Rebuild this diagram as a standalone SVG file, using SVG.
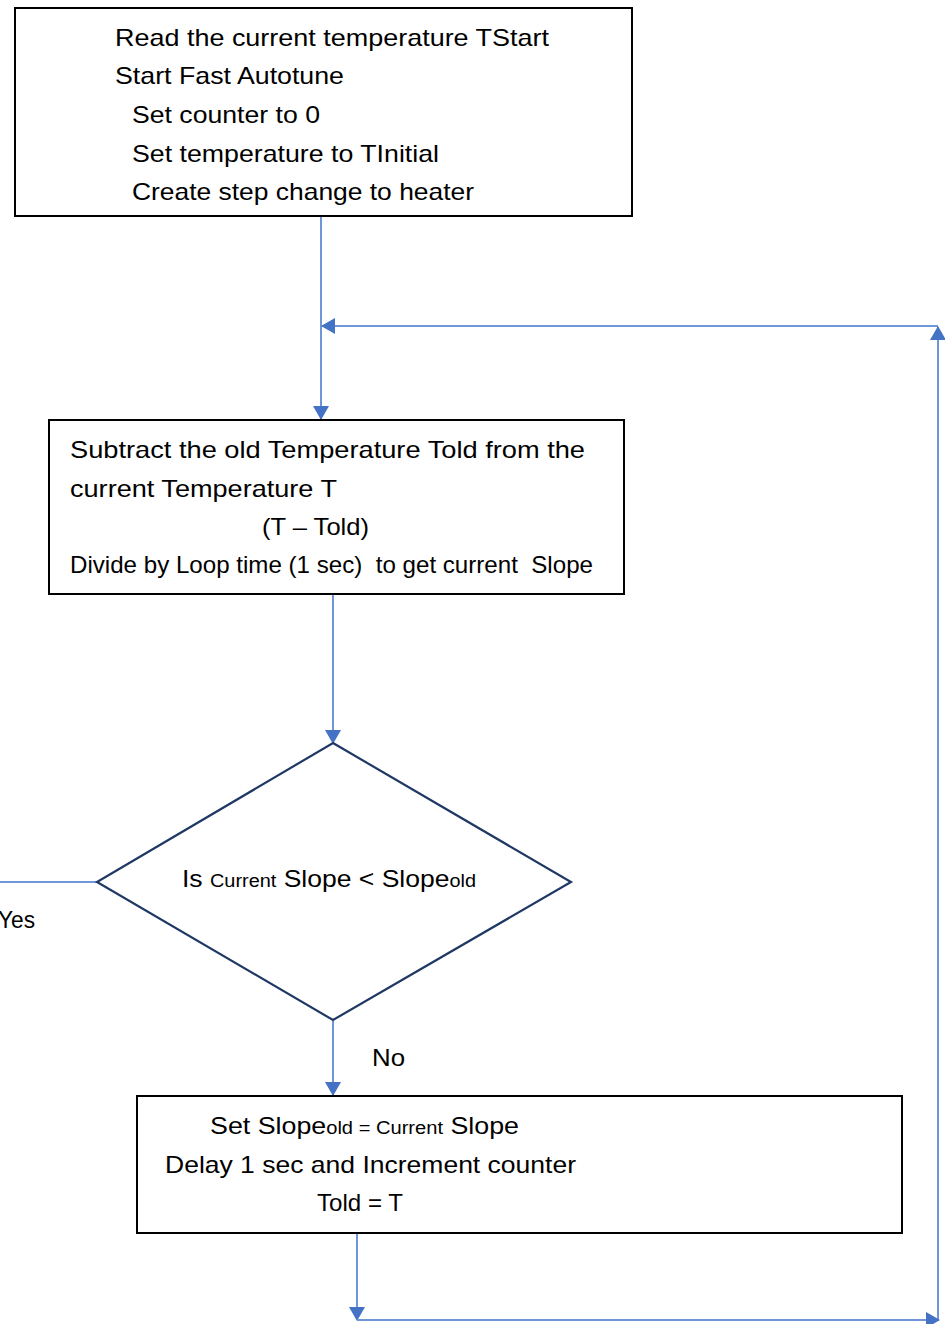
<svg xmlns="http://www.w3.org/2000/svg" width="945" height="1324" viewBox="0 0 945 1324">
<defs>
<style>
.box{fill:#fff;stroke:#000;stroke-width:2}
.dia{fill:#fff;stroke:#1f3864;stroke-width:2.2}
.con{fill:none;stroke:#6f97d8;stroke-width:2}
text{font-family:"Liberation Sans",Arial,sans-serif;font-size:24px;fill:#000}
.s{font-size:18px}
.pre{white-space:pre}
</style>
<marker id="ah" viewBox="0 0 14 16" refX="13" refY="8" markerWidth="14" markerHeight="16" markerUnits="userSpaceOnUse" orient="auto">
<path d="M0,0 L14,8 L0,16 z" fill="#4472c4"/>
</marker>
</defs>
<g id="connectors">
<path class="con" d="M321,217 V419" marker-end="url(#ah)"/>
<path class="con" d="M938,326 H322" marker-end="url(#ah)"/>
<path class="con" d="M938,1320 V327" marker-end="url(#ah)"/>
<path class="con" d="M333,595 V743" marker-end="url(#ah)"/>
<path class="con" d="M97,882 H0"/>
<path class="con" d="M333,1021 V1095" marker-end="url(#ah)"/>
<path class="con" d="M357,1234 V1320" marker-end="url(#ah)"/>
<path class="con" d="M357,1320 H939" marker-end="url(#ah)"/>
</g>
<g id="start">
<rect class="box" x="15" y="8" width="617" height="208"/>
<text x="115" y="46" textLength="434" lengthAdjust="spacingAndGlyphs">Read the current temperature TStart</text>
<text x="115" y="84" textLength="229" lengthAdjust="spacingAndGlyphs">Start Fast Autotune</text>
<text x="132" y="123" textLength="188" lengthAdjust="spacingAndGlyphs">Set counter to 0</text>
<text x="132" y="162" textLength="307" lengthAdjust="spacingAndGlyphs">Set temperature to TInitial</text>
<text x="132" y="200" textLength="342" lengthAdjust="spacingAndGlyphs">Create step change to heater</text>
</g>
<g id="slope">
<rect class="box" x="49" y="420" width="575" height="174"/>
<text x="70" y="458" textLength="515" lengthAdjust="spacingAndGlyphs">Subtract the old Temperature Told from the</text>
<text x="70" y="497" textLength="267" lengthAdjust="spacingAndGlyphs">current Temperature T</text>
<text x="262" y="535" textLength="107" lengthAdjust="spacingAndGlyphs">(T – Told)</text>
<text class="pre" x="70" y="573" textLength="523" lengthAdjust="spacingAndGlyphs">Divide by Loop time (1 sec)  to get current  Slope</text>
</g>
<g id="decision">
<polygon class="dia" points="333,743 571,882 333,1020 97,882"/>
<text x="182" y="887" textLength="294" lengthAdjust="spacingAndGlyphs">Is <tspan class="s">Current</tspan> Slope &lt; Slope<tspan class="s">old</tspan></text>
</g>
<g id="update">
<rect class="box" x="137" y="1096" width="765" height="137"/>
<text x="210" y="1134" textLength="309" lengthAdjust="spacingAndGlyphs">Set Slope<tspan class="s">old = Current</tspan> Slope</text>
<text x="165" y="1173" textLength="411" lengthAdjust="spacingAndGlyphs">Delay 1 sec and Increment counter</text>
<text x="317" y="1211" textLength="86" lengthAdjust="spacingAndGlyphs">Told = T</text>
</g>
<g id="labels">
<text x="-2" y="928" textLength="37" lengthAdjust="spacingAndGlyphs">Yes</text>
<text x="372" y="1066" textLength="33" lengthAdjust="spacingAndGlyphs">No</text>
</g>
</svg>
